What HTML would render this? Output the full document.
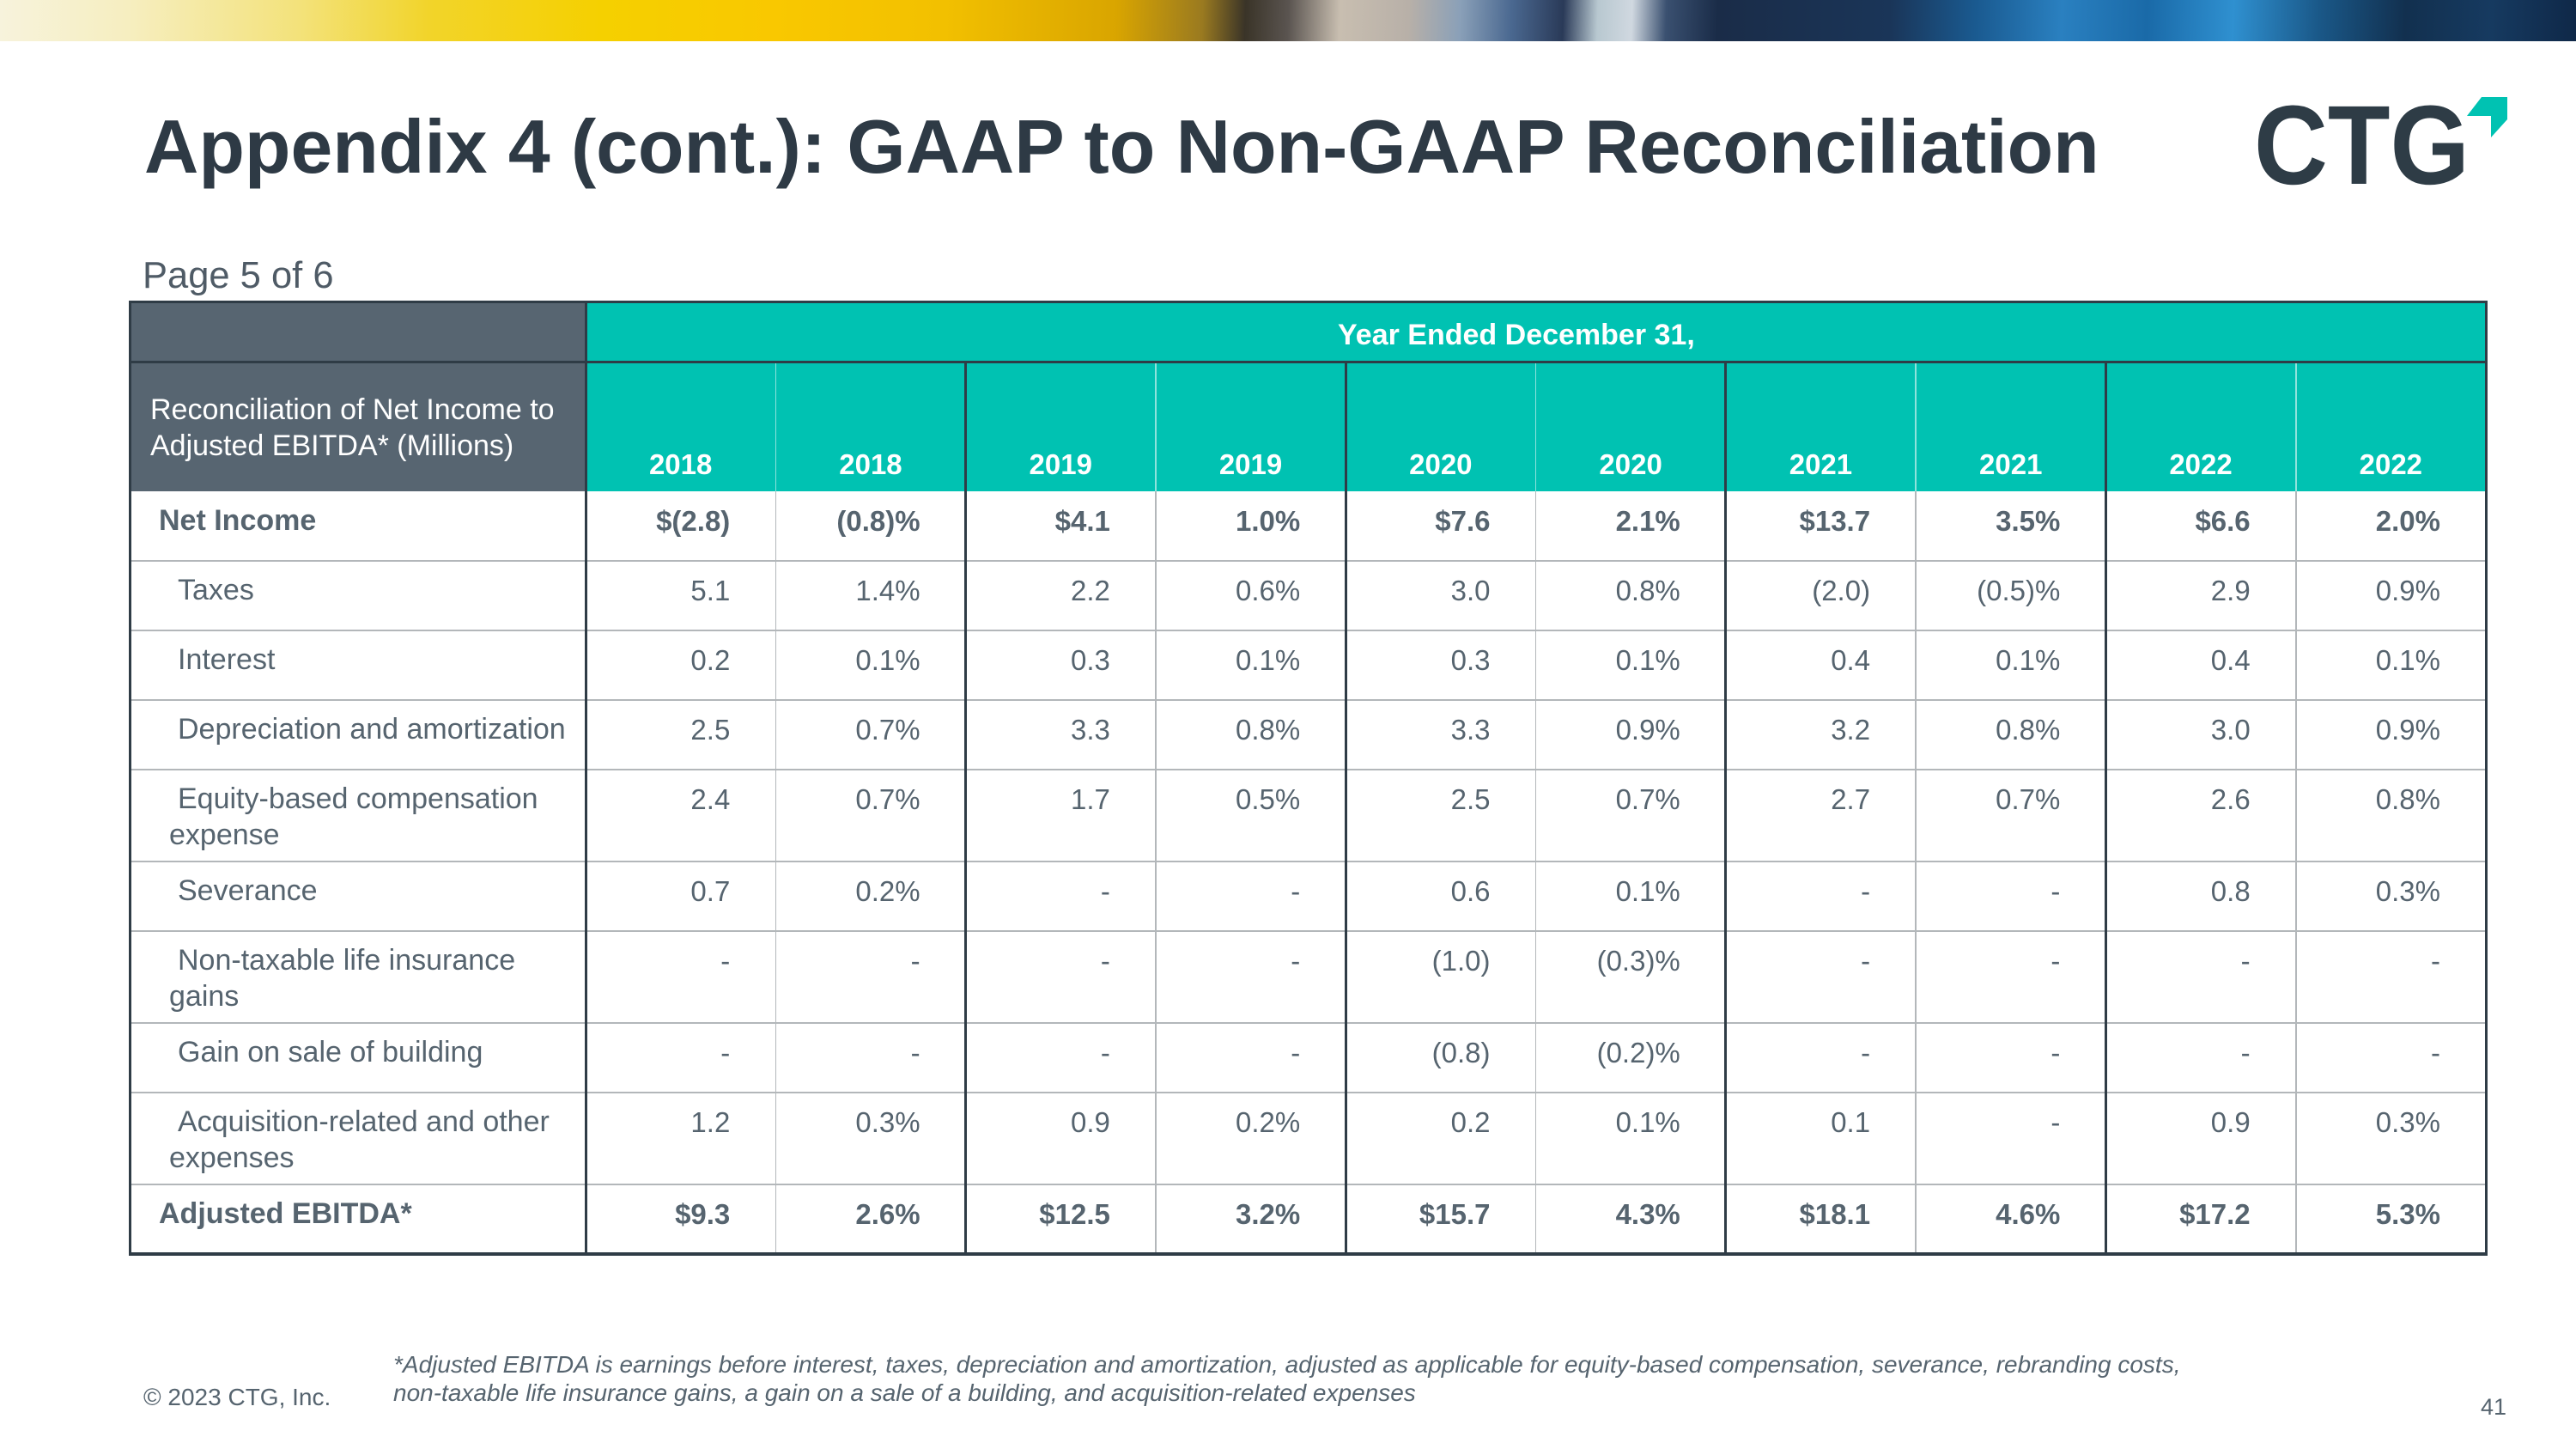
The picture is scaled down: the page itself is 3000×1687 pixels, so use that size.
<!DOCTYPE html>
<html>
<head>
<meta charset="utf-8">
<style>
  html,body{margin:0;padding:0;}
  body{width:3000px;height:1687px;position:relative;overflow:hidden;background:#ffffff;
       font-family:"Liberation Sans",Arial,sans-serif;color:#56646f;}
  .a{position:absolute;white-space:nowrap;}
  .l{position:absolute;}
  .banner{position:absolute;left:0;top:0;width:3000px;height:48px;
    background:linear-gradient(92deg,
      #f7f3dc 0px,#f6eec0 150px,#f3e27a 350px,#f2d42a 500px,#f5d000 700px,#f9c800 900px,
      #f2c000 1100px,#d9a500 1300px,#9a7a20 1400px,#3a3428 1450px,#5a5450 1500px,#c8beb0 1560px,
      #b8b0a8 1640px,#8aa0b8 1700px,#4a6890 1760px,#2a3a58 1820px,#b8c8d0 1860px,#d0d8e0 1900px,
      #3a5070 1940px,#1a2c48 2000px,#1a3558 2200px,#1a5a90 2300px,#2a80c0 2400px,#1a6aa8 2500px,
      #2f90d0 2600px,#1a5888 2700px,#12304f 2800px,#163a60 2900px,#0f2848 3000px);}
  .title{left:168px;top:128px;font-size:87.7px;line-height:87px;font-weight:bold;color:#2e3a45;}
  .page{left:166px;top:300px;font-size:43.5px;line-height:43.5px;color:#4f5b66;}
  .num{position:absolute;left:682px;width:2213px;display:grid;
       grid-template-columns:repeat(10,221.3px);font-size:33px;line-height:42px;}
  .num div{text-align:right;padding-right:53px;white-space:nowrap;}
  .num.b{font-weight:bold;}
  .yr{position:absolute;left:682px;width:2213px;display:grid;top:524px;
      grid-template-columns:repeat(10,221.3px);font-size:33px;line-height:33px;font-weight:bold;color:#fff;}
  .yr div{text-align:center;}
  .lab{position:absolute;left:197px;font-size:34px;line-height:42px;text-indent:10px;white-space:nowrap;}
  .lab.b{left:185px;text-indent:0;font-weight:bold;}
</style>
</head>
<body>
<div class="banner"></div>

<div class="a title">Appendix 4 (cont.): GAAP to Non-GAAP Reconciliation</div>

<svg class="a" style="left:2580px;top:90px;" width="380" height="150" viewBox="0 0 380 150">
  <text x="45" y="124" font-family="Liberation Sans, Arial, sans-serif" font-weight="bold" font-size="131" fill="#2e3c46" textLength="251" lengthAdjust="spacingAndGlyphs">CTG</text>
  <polygon points="293,45 310,23 340,23 340,49 321,70 321,45" fill="#00c2b2"/>
</svg>

<div class="a page">Page 5 of 6</div>

<!-- table backgrounds -->
<div class="l" style="left:152px;top:352px;width:530px;height:220px;background:#576571;"></div>
<div class="l" style="left:682px;top:352px;width:2213px;height:220px;background:#00c2b2;"></div>

<!-- header thin light lines -->
<div class="l" style="left:902.6px;top:422px;width:1.5px;height:150px;background:#8fe3dc;"></div>
<div class="l" style="left:1345.2px;top:422px;width:1.5px;height:150px;background:#8fe3dc;"></div>
<div class="l" style="left:1787.8px;top:422px;width:1.5px;height:150px;background:#8fe3dc;"></div>
<div class="l" style="left:2230.4px;top:422px;width:1.5px;height:150px;background:#8fe3dc;"></div>
<div class="l" style="left:2673px;top:422px;width:1.5px;height:150px;background:#8fe3dc;"></div>

<!-- body thin vertical gray lines -->
<div class="l" style="left:902.6px;top:572px;width:1.5px;height:888px;background:#b3b7ba;"></div>
<div class="l" style="left:1345.2px;top:572px;width:1.5px;height:888px;background:#b3b7ba;"></div>
<div class="l" style="left:1787.8px;top:572px;width:1.5px;height:888px;background:#b3b7ba;"></div>
<div class="l" style="left:2230.4px;top:572px;width:1.5px;height:888px;background:#b3b7ba;"></div>
<div class="l" style="left:2673px;top:572px;width:1.5px;height:888px;background:#b3b7ba;"></div>

<!-- body horizontal gray lines -->
<div class="l" style="left:153px;top:652px;width:2741px;height:2px;background:#b3b7ba;"></div>
<div class="l" style="left:153px;top:733px;width:2741px;height:2px;background:#b3b7ba;"></div>
<div class="l" style="left:153px;top:814px;width:2741px;height:2px;background:#b3b7ba;"></div>
<div class="l" style="left:153px;top:895px;width:2741px;height:2px;background:#b3b7ba;"></div>
<div class="l" style="left:153px;top:1002px;width:2741px;height:2px;background:#b3b7ba;"></div>
<div class="l" style="left:153px;top:1083px;width:2741px;height:2px;background:#b3b7ba;"></div>
<div class="l" style="left:153px;top:1190px;width:2741px;height:2px;background:#b3b7ba;"></div>
<div class="l" style="left:153px;top:1271px;width:2741px;height:2px;background:#b3b7ba;"></div>
<div class="l" style="left:153px;top:1378px;width:2741px;height:2px;background:#b3b7ba;"></div>

<!-- thick dark lines -->
<div class="l" style="left:150px;top:350px;width:2747px;height:3px;background:#2f3c46;"></div>
<div class="l" style="left:150px;top:420px;width:2747px;height:3px;background:#2f3c46;"></div>
<div class="l" style="left:150px;top:1458px;width:2747px;height:4px;background:#2f3c46;"></div>
<div class="l" style="left:150px;top:350px;width:3px;height:1112px;background:#2f3c46;"></div>
<div class="l" style="left:2894px;top:350px;width:3px;height:1112px;background:#2f3c46;"></div>
<div class="l" style="left:680.5px;top:350px;width:3px;height:1112px;background:#2f3c46;"></div>
<div class="l" style="left:1123.1px;top:421px;width:3px;height:1040px;background:#2f3c46;"></div>
<div class="l" style="left:1565.7px;top:421px;width:3px;height:1040px;background:#2f3c46;"></div>
<div class="l" style="left:2008.3px;top:421px;width:3px;height:1040px;background:#2f3c46;"></div>
<div class="l" style="left:2450.9px;top:421px;width:3px;height:1040px;background:#2f3c46;"></div>

<!-- header text -->
<div class="a" style="left:1558px;top:373px;font-size:34px;line-height:34px;font-weight:bold;color:#fff;">Year Ended December 31,</div>
<div class="a" style="left:175px;top:456px;font-size:34px;line-height:42px;color:#fff;">Reconciliation of Net Income to<br>Adjusted EBITDA* (Millions)</div>
<div class="yr">
  <div>2018</div><div>2018</div><div>2019</div><div>2019</div><div>2020</div><div>2020</div><div>2021</div><div>2021</div><div>2022</div><div>2022</div>
</div>

<!-- row labels -->
<div class="lab b" style="top:585px;">Net Income</div>
<div class="lab" style="top:666px;">Taxes</div>
<div class="lab" style="top:747px;">Interest</div>
<div class="lab" style="top:828px;">Depreciation and amortization</div>
<div class="lab" style="top:909px;">Equity-based compensation<br>expense</div>
<div class="lab" style="top:1016px;">Severance</div>
<div class="lab" style="top:1097px;">Non-taxable life insurance<br>gains</div>
<div class="lab" style="top:1204px;">Gain on sale of building</div>
<div class="lab" style="top:1285px;">Acquisition-related and other<br>expenses</div>
<div class="lab b" style="top:1392px;">Adjusted EBITDA*</div>

<!-- numbers -->
<div class="num b" style="top:586px;">
  <div>$(2.8)</div><div>(0.8)%</div><div>$4.1</div><div>1.0%</div><div>$7.6</div><div>2.1%</div><div>$13.7</div><div>3.5%</div><div>$6.6</div><div>2.0%</div>
</div>
<div class="num" style="top:667px;">
  <div>5.1</div><div>1.4%</div><div>2.2</div><div>0.6%</div><div>3.0</div><div>0.8%</div><div>(2.0)</div><div>(0.5)%</div><div>2.9</div><div>0.9%</div>
</div>
<div class="num" style="top:748px;">
  <div>0.2</div><div>0.1%</div><div>0.3</div><div>0.1%</div><div>0.3</div><div>0.1%</div><div>0.4</div><div>0.1%</div><div>0.4</div><div>0.1%</div>
</div>
<div class="num" style="top:829px;">
  <div>2.5</div><div>0.7%</div><div>3.3</div><div>0.8%</div><div>3.3</div><div>0.9%</div><div>3.2</div><div>0.8%</div><div>3.0</div><div>0.9%</div>
</div>
<div class="num" style="top:910px;">
  <div>2.4</div><div>0.7%</div><div>1.7</div><div>0.5%</div><div>2.5</div><div>0.7%</div><div>2.7</div><div>0.7%</div><div>2.6</div><div>0.8%</div>
</div>
<div class="num" style="top:1017px;">
  <div>0.7</div><div>0.2%</div><div>-</div><div>-</div><div>0.6</div><div>0.1%</div><div>-</div><div>-</div><div>0.8</div><div>0.3%</div>
</div>
<div class="num" style="top:1098px;">
  <div>-</div><div>-</div><div>-</div><div>-</div><div>(1.0)</div><div>(0.3)%</div><div>-</div><div>-</div><div>-</div><div>-</div>
</div>
<div class="num" style="top:1205px;">
  <div>-</div><div>-</div><div>-</div><div>-</div><div>(0.8)</div><div>(0.2)%</div><div>-</div><div>-</div><div>-</div><div>-</div>
</div>
<div class="num" style="top:1286px;">
  <div>1.2</div><div>0.3%</div><div>0.9</div><div>0.2%</div><div>0.2</div><div>0.1%</div><div>0.1</div><div>-</div><div>0.9</div><div>0.3%</div>
</div>
<div class="num b" style="top:1393px;">
  <div>$9.3</div><div>2.6%</div><div>$12.5</div><div>3.2%</div><div>$15.7</div><div>4.3%</div><div>$18.1</div><div>4.6%</div><div>$17.2</div><div>5.3%</div>
</div>

<!-- footer -->
<div class="a" style="left:167px;top:1613px;font-size:28px;line-height:28px;color:#56646f;">© 2023 CTG, Inc.</div>
<div class="a" style="left:458px;top:1572px;font-size:28px;line-height:33px;font-style:italic;color:#56646f;">*Adjusted EBITDA is earnings before interest, taxes, depreciation and amortization, adjusted as applicable for equity-based compensation, severance, rebranding costs,<br>non-taxable life insurance gains, a gain on a sale of a building, and acquisition-related expenses</div>
<div class="a" style="left:2889px;top:1625px;font-size:27px;line-height:27px;color:#56646f;">41</div>
</body>
</html>
